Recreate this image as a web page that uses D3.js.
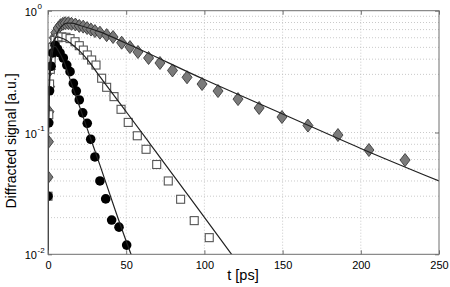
<!DOCTYPE html>
<html>
<head>
<meta charset="utf-8">
<script src="https://cdn.jsdelivr.net/npm/d3@7"></script>
<style>
  body { margin: 0; background: #fff; }
  svg { font-family: "Liberation Sans", Arial, sans-serif; }
</style>
</head>
<body>
<svg width="450" height="287"></svg>
<script>
// circles (black)
const circT = [0, 0.5, 1, 2, 3, 4.5, 6.1, 7.7, 9.8, 12, 14.1, 16.2, 18.1, 20, 22.2, 25.1, 27.3, 30, 33.2, 36.9, 40.7, 45.4, 50.3];
const circV = [0.03, 0.12, 0.22, 0.35, 0.45, 0.52, 0.485, 0.45, 0.409, 0.358, 0.316, 0.253, 0.219, 0.185, 0.145, 0.119, 0.088, 0.063, 0.040, 0.0285, 0.0191, 0.0167, 0.0119];

// squares (open)
const sqT = [0, 0.5, 1, 1.5, 2, 3, 4.5, 6.5, 8.8, 11.5, 14.1, 17.3, 20, 22.6, 25.1, 27.9, 30.7, 34.3, 37.5, 42.2, 46.7, 51.3, 57.1, 62.7, 69.5, 76.9, 84.8, 93.5, 103.1];
const sqV = [0.03, 0.14, 0.25, 0.33, 0.4, 0.5, 0.57, 0.6, 0.61, 0.605, 0.59, 0.556, 0.516, 0.475, 0.433, 0.394, 0.358, 0.279, 0.235, 0.197, 0.155, 0.121, 0.094, 0.0728, 0.0546, 0.040, 0.0283, 0.0189, 0.0137];

// diamonds (grey)
const diaT = [0, 0.3, 0.6, 1, 1.5, 2, 3, 4, 5, 6.5, 8, 9.5, 11, 13, 15, 17.5, 20, 22.5, 25, 27.5, 30, 33.2, 37.5, 41.6, 47.1, 52.4, 57.5, 64.3, 71.6, 79.6, 88.9, 98.5, 108.7, 121.5, 135, 149.6, 166.2, 185.4, 205.2, 228.3];
const diaV = [0.043, 0.084, 0.148, 0.238, 0.33, 0.42, 0.52, 0.6, 0.66, 0.72, 0.76, 0.78, 0.79, 0.79, 0.78, 0.77, 0.75, 0.74, 0.72, 0.70, 0.68, 0.66, 0.63, 0.608, 0.546, 0.503, 0.458, 0.409, 0.372, 0.323, 0.284, 0.25, 0.219, 0.188, 0.159, 0.134, 0.114, 0.0953, 0.0718, 0.0594];

// fit curves
const fitCircT = [0, 0.3, 1, 2, 3, 4.5, 7, 10, 15, 20, 25, 33.2, 43, 53.1, 56];
const fitCircV = [0.005, 0.1, 0.3, 0.45, 0.5, 0.51, 0.46, 0.386, 0.253, 0.166, 0.108, 0.054, 0.023, 0.01, 0.008];
const fitSqT = [0, 0.3, 1, 2, 4, 6, 8, 12, 16, 20, 25, 33.2, 50, 65, 90, 117.4, 120];
const fitSqV = [0.005, 0.1, 0.3, 0.48, 0.58, 0.61, 0.6, 0.57, 0.52, 0.47, 0.40, 0.287, 0.148, 0.0815, 0.030, 0.01, 0.009];
const fitDiaT = [0, 0.3, 1, 2, 4, 6, 9, 12, 15, 20, 33.2, 50, 100, 150, 200, 250];
const fitDiaV = [0.005, 0.1, 0.25, 0.37, 0.55, 0.66, 0.75, 0.79, 0.79, 0.76, 0.67, 0.54, 0.272, 0.142, 0.074, 0.040];

const xTicks = [0, 50, 100, 150, 200, 250];
const yTicks = [1e-2, 1e-1, 1];
const yExp = ["-2", "-1", "0"];

const svg = d3.select("svg");
const L = 48, R = 439, T = 10.7, B = 254.3;
const x = d3.scaleLinear().domain([0, 250]).range([L, R]);
const y = d3.scaleLog().domain([0.01, 1]).range([B, T]);

// grid
const minor = [];
[0.01, 0.1].forEach(d => { for (let k = 2; k <= 9; k++) minor.push(d * k); });
const grid = svg.append("g").attr("stroke", "#bdbdbd").attr("stroke-width", 0.8)
  .attr("stroke-dasharray", "1,2").attr("fill", "none");
grid.selectAll(".h").data(minor.concat([0.1])).join("line")
  .attr("x1", L).attr("x2", R).attr("y1", d => y(d)).attr("y2", d => y(d));
grid.selectAll(".v").data(xTicks.slice(1, -1)).join("line")
  .attr("y1", T).attr("y2", B).attr("x1", d => x(d)).attr("x2", d => x(d));

// clip
svg.append("clipPath").attr("id", "clip").append("rect")
  .attr("x", L).attr("y", T).attr("width", R - L).attr("height", B - T);
const plot = svg.append("g").attr("clip-path", "url(#clip)");

const pts = (ts, vs) => ts.map((t, i) => [t, vs[i]]);

// markers
plot.append("g").selectAll("path").data(pts(diaT, diaV)).join("path")
  .attr("d", "M0,-6.5L5,0L0,6.5L-5,0Z")
  .attr("transform", d => `translate(${x(d[0])},${y(d[1])})`)
  .attr("fill", "#7a7a7a").attr("stroke", "#3a3a3a").attr("stroke-width", 0.9);
plot.append("g").selectAll("rect").data(pts(sqT, sqV)).join("rect")
  .attr("x", d => x(d[0]) - 4).attr("y", d => y(d[1]) - 4)
  .attr("width", 8).attr("height", 8)
  .attr("fill", "#fff").attr("stroke", "#555").attr("stroke-width", 1.1);
plot.append("g").selectAll("circle").data(pts(circT, circV)).join("circle")
  .attr("cx", d => x(d[0])).attr("cy", d => y(d[1])).attr("r", 4.8)
  .attr("fill", "#000");

// fit lines
const line = d3.line().x(d => x(d[0])).y(d => y(d[1])).curve(d3.curveMonotoneX);
[[fitCircT, fitCircV], [fitSqT, fitSqV], [fitDiaT, fitDiaV]].forEach(([ts, vs]) => {
  plot.append("path").datum(pts(ts, vs)).attr("d", line)
    .attr("fill", "none").attr("stroke", "#222").attr("stroke-width", 1.2);
});

// frame and ticks
const axisColor = "#6e6e6e";
svg.append("rect").attr("x", L).attr("y", T).attr("width", R - L).attr("height", B - T)
  .attr("fill", "none").attr("stroke", axisColor).attr("stroke-width", 1);
const xAxis = d3.axisBottom(x).tickValues(xTicks).tickSize(-4).tickPadding(7).tickFormat(d3.format("d"));
const gx = svg.append("g").attr("transform", `translate(0,${B})`).call(xAxis);
gx.select(".domain").remove();
gx.selectAll("line").attr("stroke", axisColor);
gx.selectAll("text").attr("font-size", 11).attr("fill", "#000");
const gxt = svg.append("g").attr("transform", `translate(0,${T})`)
  .call(d3.axisTop(x).tickValues(xTicks).tickSize(-4).tickFormat(""));
gxt.select(".domain").remove();
gxt.selectAll("line").attr("stroke", axisColor);

const yAxis = d3.axisLeft(y).tickValues(yTicks).tickSize(-4).tickFormat("");
const gy = svg.append("g").attr("transform", `translate(${L},0)`).call(yAxis);
gy.select(".domain").remove();
gy.selectAll("line").attr("stroke", axisColor);
const gyr = svg.append("g").attr("transform", `translate(${R},0)`)
  .call(d3.axisRight(y).tickValues(yTicks).tickSize(-4).tickFormat(""));
gyr.select(".domain").remove();
gyr.selectAll("line").attr("stroke", axisColor);

// y tick labels with exponents
const yl = svg.append("g");
yTicks.forEach((v, i) => {
  yl.append("text").attr("x", 37).attr("y", y(v) + 5)
    .attr("text-anchor", "end").attr("font-size", 11).text("10");
  yl.append("text").attr("x", 37.5).attr("y", y(v) - 1.5).attr("font-size", 8).text(yExp[i]);
});

// labels
svg.append("text").attr("x", 243).attr("y", 280).attr("text-anchor", "middle")
  .attr("font-size", 14.5).text("t [ps]");
svg.append("text").attr("transform", `translate(16,141) rotate(-90)`)
  .attr("text-anchor", "middle").attr("font-size", 14).text("Diffracted signal [a.u.]");
</script>
</body>
</html>
